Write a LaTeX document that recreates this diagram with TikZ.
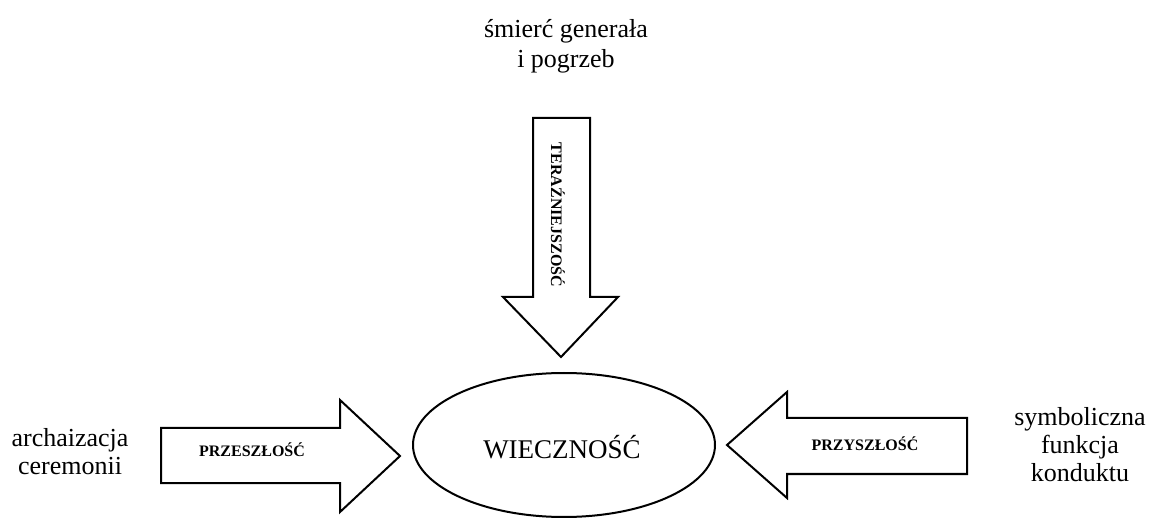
\documentclass[tikz,border=0pt]{standalone}
\usepackage{fontspec}
\setmainfont{Liberation Serif}
\begin{document}
\begin{tikzpicture}[x=1pt,y=-1pt,
  blockarrow/.style={draw,line width=2pt,line join=miter,fill=white},
  arrowlabel/.style={font=\fontsize{16}{18}\selectfont\bfseries,inner sep=0pt},
  sidetext/.style={font=\fontsize{26}{28}\selectfont,align=center,inner sep=0pt}]
\useasboundingbox (0,0) rectangle (1149,518);

% top: present
\node[sidetext] (smierc) at (566,46) {śmierć generała\\[2pt]i pogrzeb};
\draw[blockarrow] (533,118) -- (590,118) -- (590,297) -- (618,297)
  -- (561,357) -- (503,297) -- (533,297) -- cycle;
\node[arrowlabel,rotate=-90] (teraz) at (558,215) {TERAŹNIEJSZOŚĆ};

% left: past
\node[sidetext] (archa) at (70,452) {archaizacja\\ceremonii};
\draw[blockarrow] (161,428) -- (340,428) -- (340,400) -- (400,456)
  -- (340,512) -- (340,483) -- (161,483) -- cycle;
\node[arrowlabel] (przesz) at (252,450) {PRZESZŁOŚĆ};

% right: future
\node[sidetext] (symbol) at (1080,445) {symboliczna\\funkcja\\konduktu};
\draw[blockarrow] (967,418) -- (787,418) -- (787,392) -- (727,445)
  -- (787,498) -- (787,474) -- (967,474) -- cycle;
\node[arrowlabel] (przysz) at (865,444) {PRZYSZŁOŚĆ};

% centre
\draw[line width=2pt] (564,445) ellipse [x radius=151,y radius=72];
\node[font=\fontsize{27}{30}\selectfont,inner sep=0pt] (wiecz) at (562,447) {WIECZNOŚĆ};
\end{tikzpicture}
\end{document}
